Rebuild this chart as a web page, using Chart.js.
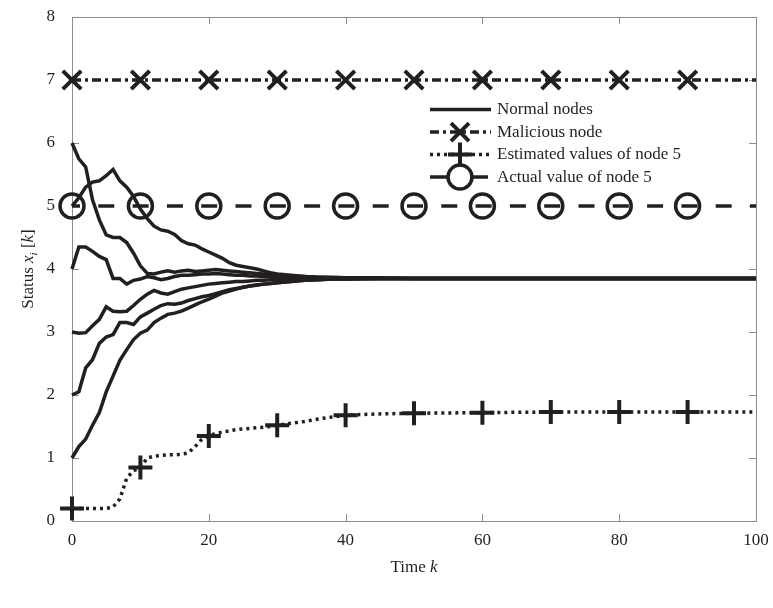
<!DOCTYPE html>
<html>
<head>
<meta charset="utf-8">
<script src="https://cdn.jsdelivr.net/npm/chart.js@4.4.0/dist/chart.umd.min.js"></script>
<style>
  body { margin: 0; background: #fff; }
  #wrap { width: 773px; height: 608px; }
</style>
</head>
<body>
<div id="wrap"><canvas id="statusChart" width="773" height="608"></canvas></div>
<script>
// Time steps the curves were read at
const timeSteps = [0, 1, 2, 3, 4, 5, 6, 7, 8, 9, 10, 11, 12, 13, 14, 15, 16, 17, 18, 19, 20,
    21, 22, 23, 24, 25, 26, 27, 28, 29, 30, 32, 34, 36, 38, 40, 45, 50, 60, 70, 80, 90, 100];

// Normal nodes (one array per node)
const nodeA = [6.0, 5.75, 5.62, 5.1, 4.78, 4.54, 4.5, 4.5, 4.42, 4.25, 4.05, 3.93, 3.92, 3.95, 3.97,
    3.95, 3.97, 3.98, 3.96, 3.97, 3.98, 3.99, 3.98, 3.97, 3.96, 3.95, 3.94, 3.93, 3.92, 3.91, 3.9,
    3.89, 3.88, 3.87, 3.87, 3.86, 3.86, 3.85, 3.85, 3.85, 3.85, 3.85, 3.85];
const nodeB = [5.0, 5.13, 5.3, 5.38, 5.4, 5.48, 5.58, 5.4, 5.3, 5.15, 4.95, 4.8, 4.68, 4.62, 4.6,
    4.55, 4.45, 4.4, 4.38, 4.32, 4.27, 4.22, 4.17, 4.1, 4.06, 4.04, 4.02, 4.0, 3.97, 3.94, 3.92,
    3.9, 3.88, 3.87, 3.86, 3.86, 3.85, 3.85, 3.85, 3.85, 3.85, 3.85, 3.85];
const nodeC = [4.0, 4.35, 4.35, 4.28, 4.2, 4.15, 3.85, 3.85, 3.76, 3.82, 3.84, 3.88, 3.86, 3.83, 3.85,
    3.88, 3.9, 3.9, 3.91, 3.92, 3.92, 3.93, 3.92, 3.91, 3.9, 3.9, 3.89, 3.89, 3.88, 3.88, 3.87,
    3.87, 3.86, 3.86, 3.85, 3.85, 3.85, 3.85, 3.85, 3.85, 3.85, 3.85, 3.85];
const nodeD = [3.0, 2.98, 2.99, 3.1, 3.2, 3.4, 3.33, 3.32, 3.33, 3.42, 3.52, 3.6, 3.66, 3.62, 3.6,
    3.64, 3.68, 3.7, 3.72, 3.74, 3.76, 3.77, 3.78, 3.79, 3.8, 3.8, 3.81, 3.82, 3.82, 3.83, 3.83,
    3.84, 3.84, 3.85, 3.85, 3.85, 3.85, 3.85, 3.85, 3.85, 3.85, 3.85, 3.85];
const nodeE = [2.0, 2.05, 2.43, 2.56, 2.82, 2.92, 2.96, 3.15, 3.15, 3.12, 3.24, 3.3, 3.36, 3.42, 3.45,
    3.44, 3.46, 3.5, 3.53, 3.56, 3.58, 3.61, 3.64, 3.67, 3.69, 3.71, 3.73, 3.75, 3.76, 3.77, 3.78,
    3.8, 3.82, 3.83, 3.84, 3.84, 3.85, 3.85, 3.85, 3.85, 3.85, 3.85, 3.85];
const nodeF = [1.0, 1.18, 1.3, 1.52, 1.72, 2.05, 2.3, 2.55, 2.72, 2.88, 2.98, 3.03, 3.15, 3.22, 3.28,
    3.3, 3.33, 3.38, 3.43, 3.48, 3.52, 3.57, 3.62, 3.65, 3.68, 3.71, 3.73, 3.74, 3.76, 3.77, 3.78,
    3.8, 3.82, 3.83, 3.84, 3.84, 3.85, 3.85, 3.85, 3.85, 3.85, 3.85, 3.85];

// Estimate of node 5 kept by the malicious side
const estimatedNode5 = [0.2, 0.2, 0.2, 0.2, 0.2, 0.2, 0.22, 0.35, 0.68, 0.8, 0.85, 1.0, 1.03, 1.04, 1.05,
    1.05, 1.06, 1.08, 1.18, 1.3, 1.35, 1.39, 1.41, 1.43, 1.45, 1.46, 1.47, 1.48, 1.49, 1.5, 1.52,
    1.55, 1.58, 1.62, 1.65, 1.68, 1.7, 1.71, 1.72, 1.73, 1.73, 1.73, 1.73];

// Constant lines, sampled at the marker steps
const markerSteps = [0, 10, 20, 30, 40, 50, 60, 70, 80, 90, 100];
const maliciousNode = [7, 7, 7, 7, 7, 7, 7, 7, 7, 7, 7];
const actualNode5 = [5, 5, 5, 5, 5, 5, 5, 5, 5, 5, 5];

const xTicks = [0, 20, 40, 60, 80, 100];
const yTicks = [0, 1, 2, 3, 4, 5, 6, 7, 8];
const legendLabels = ["Normal nodes", "Malicious node", "Estimated values of node 5", "Actual value of node 5"];

const INK = "#231f20";
const SERIF = "'Liberation Serif', 'Times New Roman', serif";

function pairs(xs, ys) {
    return xs.map((x, i) => ({ x: x, y: ys[i] }));
}

// markers only every 10 steps, none at the right edge
function markerAt(r) {
    return ctx => {
        const p = ctx.raw;
        return p && p.x % 10 === 0 && p.x < 100 ? r : 0;
    };
}

const normalStyle = { borderColor: INK, borderWidth: 3.5, pointRadius: 0, fill: false, tension: 0, clip: false };

const datasets = [nodeA, nodeB, nodeC, nodeD, nodeE, nodeF].map((vals, i) => Object.assign({
    label: i === 0 ? legendLabels[0] : "",
    data: pairs(timeSteps, vals),
}, normalStyle));

datasets.push({
    label: legendLabels[1],
    data: pairs(markerSteps, maliciousNode),
    borderColor: INK, borderWidth: 3.5, borderDash: [9, 4, 3, 4],
    pointStyle: "crossRot", pointRadius: markerAt(13), pointBorderWidth: 4,
    pointBorderColor: INK, pointBackgroundColor: INK, clip: false,
});
datasets.push({
    label: legendLabels[2],
    data: pairs(timeSteps, estimatedNode5),
    borderColor: INK, borderWidth: 3.5, borderDash: [3, 4],
    pointStyle: "cross", pointRadius: markerAt(12), pointBorderWidth: 4,
    pointBorderColor: INK, pointBackgroundColor: INK, clip: false,
});
datasets.push({
    label: legendLabels[3],
    data: pairs(markerSteps, actualNode5),
    borderColor: INK, borderWidth: 3.5, borderDash: [16, 18.3], borderDashOffset: 8,
    pointStyle: "circle", pointRadius: markerAt(12), pointBorderWidth: 3.5,
    pointBorderColor: INK, pointBackgroundColor: "rgba(0,0,0,0)", clip: false,
});

// box, inward ticks, tick labels, axis titles and the legend
const framePlugin = {
    id: "frame",
    beforeDatasetsDraw(chart) {
        const { ctx, chartArea: a, scales: { x, y } } = chart;
        ctx.save();
        ctx.strokeStyle = "#8c8c8c";
        ctx.lineWidth = 1;
        ctx.strokeRect(a.left + 0.5, a.top + 0.5, a.right - a.left, a.bottom - a.top);
        ctx.beginPath();
        xTicks.forEach(v => {
            const px = Math.round(x.getPixelForValue(v)) + 0.5;
            ctx.moveTo(px, a.bottom); ctx.lineTo(px, a.bottom - 7);
            ctx.moveTo(px, a.top); ctx.lineTo(px, a.top + 7);
        });
        yTicks.forEach(v => {
            const py = Math.round(y.getPixelForValue(v)) + 0.5;
            ctx.moveTo(a.left, py); ctx.lineTo(a.left + 7, py);
            ctx.moveTo(a.right, py); ctx.lineTo(a.right - 7, py);
        });
        ctx.stroke();

        ctx.fillStyle = INK;
        ctx.font = "17px " + SERIF;
        ctx.textAlign = "center";
        ctx.textBaseline = "middle";
        xTicks.forEach(v => ctx.fillText(String(v), x.getPixelForValue(v), a.bottom + 20));
        ctx.textAlign = "right";
        yTicks.forEach(v => ctx.fillText(String(v), a.left - 17, y.getPixelForValue(v)));
        ctx.restore();
    },
    afterDraw(chart) {
        const { ctx, chartArea: a, scales: { y } } = chart;
        ctx.save();
        ctx.fillStyle = INK;
        ctx.textBaseline = "alphabetic";

        // x title: "Time k"
        const cx = (a.left + a.right) / 2;
        ctx.font = "17px " + SERIF;
        const w1 = ctx.measureText("Time ").width;
        ctx.font = "italic 17px " + SERIF;
        const w2 = ctx.measureText("k").width;
        const sx = cx - (w1 + w2) / 2;
        ctx.font = "17px " + SERIF;
        ctx.fillText("Time ", sx, 572);
        ctx.font = "italic 17px " + SERIF;
        ctx.fillText("k", sx + w1, 572);

        // y title: "Status x_i [k]"
        ctx.translate(27, (a.top + a.bottom) / 2);
        ctx.rotate(-Math.PI / 2);
        const parts = [
            { t: "Status ", f: "17px ", dy: 0 },
            { t: "x", f: "italic 17px ", dy: 0 },
            { t: "i", f: "italic 11px ", dy: 4 },
            { t: " [", f: "17px ", dy: 0 },
            { t: "k", f: "italic 17px ", dy: 0 },
            { t: "]", f: "17px ", dy: 0 },
        ];
        let total = 0;
        parts.forEach(p => { ctx.font = p.f + SERIF; p.w = ctx.measureText(p.t).width; total += p.w; });
        let px = -total / 2;
        parts.forEach(p => {
            ctx.font = p.f + SERIF;
            ctx.fillText(p.t, px, 6 + p.dy);
            px += p.w;
        });
        ctx.restore();

        // legend, placed just under the malicious line
        ctx.save();
        const rows = [
            { dash: [], marker: null },
            { dash: [9, 4, 3, 4], marker: "x" },
            { dash: [3, 4], marker: "+" },
            { dash: [18, 22], marker: "o" },
        ];
        const x0 = 430, x1 = 491, xm = 460;
        const top = y.getPixelForValue(6.53);
        rows.forEach((r, i) => {
            const yy = top + i * 22.5;
            ctx.strokeStyle = INK;
            ctx.lineWidth = 3.5;
            ctx.setLineDash(r.dash);
            ctx.beginPath();
            ctx.moveTo(x0, yy); ctx.lineTo(x1, yy);
            ctx.stroke();
            ctx.setLineDash([]);
            ctx.lineWidth = 4;
            ctx.beginPath();
            if (r.marker === "x") {
                ctx.moveTo(xm - 9, yy - 9); ctx.lineTo(xm + 9, yy + 9);
                ctx.moveTo(xm + 9, yy - 9); ctx.lineTo(xm - 9, yy + 9);
            } else if (r.marker === "+") {
                ctx.moveTo(xm - 12, yy); ctx.lineTo(xm + 12, yy);
                ctx.moveTo(xm, yy - 12); ctx.lineTo(xm, yy + 12);
            } else if (r.marker === "o") {
                ctx.lineWidth = 3.5;
                ctx.arc(xm, yy, 12, 0, Math.PI * 2);
            }
            ctx.stroke();
            ctx.fillStyle = INK;
            ctx.font = "17px " + SERIF;
            ctx.textBaseline = "middle";
            ctx.fillText(legendLabels[i], 497, yy);
        });
        ctx.restore();
    },
};

function renderChart() {
    const ctx = document.getElementById("statusChart").getContext("2d");
    new Chart(ctx, {
        type: "line",
        data: { datasets: datasets },
        options: {
            responsive: false,
            animation: false,
            layout: { padding: { left: 0, top: 13, right: 15, bottom: 0 } },
            plugins: { legend: { display: false }, tooltip: { enabled: false } },
            scales: {
                x: {
                    type: "linear", min: 0, max: 100,
                    afterBuildTicks: s => { s.ticks = xTicks.map(v => ({ value: v })); },
                    afterFit: s => { s.height = 87; },
                    grid: { display: false, drawTicks: false },
                    border: { display: false },
                    ticks: { display: false },
                },
                y: {
                    type: "linear", min: 0, max: 8,
                    afterBuildTicks: s => { s.ticks = yTicks.map(v => ({ value: v })); },
                    afterFit: s => { s.width = 72; },
                    grid: { display: false, drawTicks: false },
                    border: { display: false },
                    ticks: { display: false },
                },
            },
        },
        plugins: [framePlugin],
    });
}

document.addEventListener("DOMContentLoaded", renderChart);
</script>
</body>
</html>
